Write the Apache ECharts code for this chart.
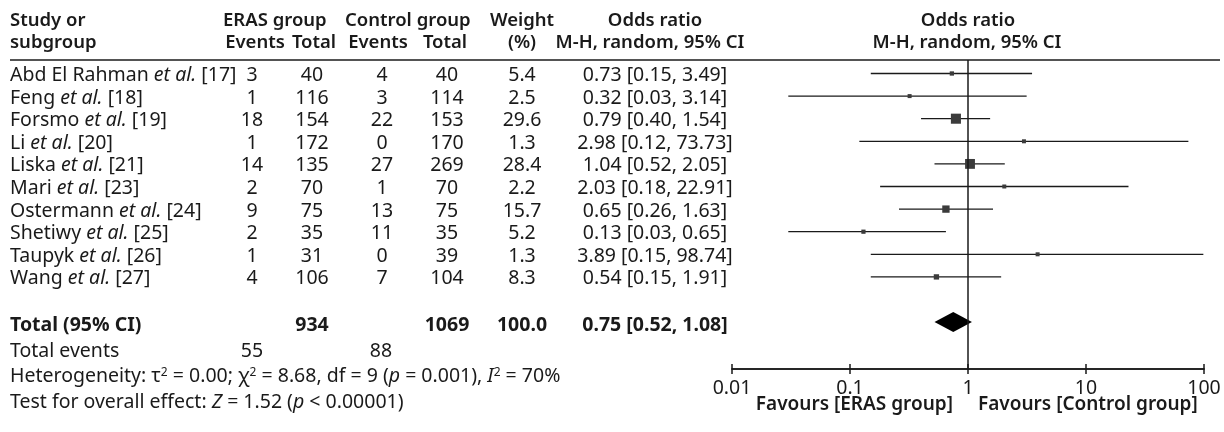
<!DOCTYPE html>
<html>
<head>
<meta charset="utf-8">
<script src="https://cdn.jsdelivr.net/npm/echarts@6/dist/echarts.min.js"></script>
<style>
  html, body { margin: 0; padding: 0; background: #ffffff; }
  #chart { width: 1224px; height: 432px; }
</style>
</head>
<body>
<div id="chart"></div>
<script>
// Study-level data for the forest plot
const studyNames = ['Abd El Rahman', 'Feng', 'Forsmo', 'Li', 'Liska', 'Mari', 'Ostermann', 'Shetiwy', 'Taupyk', 'Wang'];
const studyRefs = [17, 18, 19, 20, 21, 23, 24, 25, 26, 27];
const erasEvents = [3, 1, 18, 1, 14, 2, 9, 2, 1, 4];
const erasTotal = [40, 116, 154, 172, 135, 70, 75, 35, 31, 106];
const controlEvents = [4, 3, 22, 0, 27, 1, 13, 11, 0, 7];
const controlTotal = [40, 114, 153, 170, 269, 70, 75, 35, 39, 104];
const weights = [5.4, 2.5, 29.6, 1.3, 28.4, 2.2, 15.7, 5.2, 1.3, 8.3];
const oddsRatio = [0.73, 0.32, 0.79, 2.98, 1.04, 2.03, 0.65, 0.13, 3.89, 0.54];
const ciLow = [0.15, 0.03, 0.40, 0.12, 0.52, 0.18, 0.26, 0.03, 0.15, 0.15];
const ciHigh = [3.49, 3.14, 1.54, 73.73, 2.05, 22.91, 1.63, 0.65, 98.74, 1.91];

// Pooled estimate
const pooledOR = [0.75];
const pooledLow = [0.52];
const pooledHigh = [1.08];
const pooledTotals = [934, 1069];
const pooledWeight = ['100.0'];
const pooledEvents = [55, 88];

// Axis ticks (log scale)
const axisTicks = [0.01, 0.1, 1, 10, 100];
const axisTickLabels = ['0.01', '0.1', '1', '10', '100'];

const FONT = '"Noto Sans", "DejaVu Sans", sans-serif';
const INK = '#1a1a1a';
const FS = 19.5;
const HFS = 18.5;

const totalRow = studyNames.length + 1;
const studyData = studyNames.map((_, i) => [oddsRatio[i], i, ciLow[i], ciHigh[i], weights[i]]);
const pooledData = [[pooledOR[0], totalRow, pooledLow[0], pooledHigh[0]]];

function tickLabel(v) {
  const k = axisTicks.findIndex(t => Math.abs(Math.log10(t) - Math.log10(v)) < 1e-6);
  return k >= 0 ? axisTickLabels[k] : '';
}

const chart = echarts.init(document.getElementById('chart'), null, { renderer: 'canvas' });

// Two identical grids: one carries the plot and ticks pointing up,
// the other only the axis with ticks pointing down and the labels.
const gridBox = { left: 732, right: 20, top: 60, bottom: 63 };
const baseAxis = {
  type: 'log', logBase: 10, min: 0.01, max: 100, position: 'bottom',
  axisLine: { onZero: false, lineStyle: { color: INK, width: 1.5 } },
  splitLine: { show: false }
};
const yBase = { type: 'value', inverse: true, min: -0.597, max: 13.075, show: false };

chart.setOption({
  animation: false,
  grid: [Object.assign({}, gridBox), Object.assign({}, gridBox)],
  xAxis: [
    Object.assign({}, baseAxis, {
      gridIndex: 0,
      axisTick: { inside: true, length: 5, lineStyle: { color: INK, width: 1.5 } },
      axisLabel: { show: false }
    }),
    Object.assign({}, baseAxis, {
      gridIndex: 1,
      axisTick: { inside: false, length: 5, lineStyle: { color: INK, width: 1.5 } },
      axisLabel: { fontFamily: FONT, fontSize: FS, color: INK, margin: 9, formatter: tickLabel }
    })
  ],
  yAxis: [Object.assign({ gridIndex: 0 }, yBase), Object.assign({ gridIndex: 1 }, yBase)],
  series: [
    {
      type: 'custom',
      xAxisIndex: 0, yAxisIndex: 0,
      data: studyData,
      encode: { x: [0, 2, 3], y: 1 },
      renderItem: function (params, api) {
        const y = api.value(1);
        const a = api.coord([api.value(2), y]);
        const b = api.coord([api.value(3), y]);
        const c = api.coord([api.value(0), y]);
        const s = Math.max(4, 1.85 * Math.sqrt(api.value(4)));
        return {
          type: 'group',
          children: [
            { type: 'line', shape: { x1: a[0], y1: a[1], x2: b[0], y2: b[1] },
              style: { stroke: INK, lineWidth: 1.3 } },
            { type: 'rect', shape: { x: c[0] - s / 2, y: c[1] - s / 2, width: s, height: s },
              style: { fill: '#3b3b3b' } }
          ]
        };
      },
      markLine: {
        silent: true, symbol: 'none', label: { show: false },
        lineStyle: { color: INK, width: 1.5, type: 'solid' },
        data: [{ xAxis: 1 }]
      }
    },
    {
      type: 'custom',
      xAxisIndex: 0, yAxisIndex: 0,
      data: pooledData,
      encode: { x: [0, 2, 3], y: 1 },
      renderItem: function (params, api) {
        const y = api.value(1);
        const l = api.coord([api.value(2), y]);
        const r = api.coord([api.value(3), y]);
        const c = api.coord([api.value(0), y]);
        const h = 10;
        return {
          type: 'polygon',
          shape: { points: [[l[0], l[1]], [c[0], c[1] - h], [r[0], r[1]], [c[0], c[1] + h]] },
          style: { fill: '#000000' }
        };
      }
    }
  ]
});

// Table text, aligned to the plot rows
function rowY(r) { return chart.convertToPixel({ gridIndex: 0 }, [1, r])[1] + 2; }

const rich = {
  n: { fontFamily: FONT, fontSize: FS, fill: INK },
  i: { fontFamily: FONT, fontSize: FS, fill: INK, fontStyle: 'italic' },
  sup: { fontFamily: FONT, fontSize: 12, fill: INK, verticalAlign: 'top' }
};

function txt(x, y, text, align, weight, size) {
  return {
    type: 'text', x: x, y: y, silent: true,
    style: {
      text: text, fontFamily: FONT, fontSize: size || FS, fill: INK,
      fontWeight: weight || 'normal', align: align || 'left', verticalAlign: 'middle'
    }
  };
}
function head(x, y, text, align) { return txt(x, y, text, align, 600, HFS); }
function richTxt(x, y, text) {
  return {
    type: 'text', x: x, y: y, silent: true,
    style: { text: text, rich: rich, fontFamily: FONT, fontSize: FS, fill: INK, align: 'left', verticalAlign: 'middle' }
  };
}

const col = { study: 10, eE: 252, eT: 312, cE: 382, cT: 447, w: 522, or: 655 };
const els = [];

// Header
els.push(head(col.study, 21, 'Study or', 'left'));
els.push(head(col.study, 43, 'subgroup', 'left'));
els.push(head(223, 21, 'ERAS group', 'left'));
els.push(head(col.eE + 3, 43, 'Events', 'center'));
els.push(head(col.eT + 2, 43, 'Total', 'center'));
els.push(head(345, 21, 'Control group', 'left'));
els.push(head(col.cE - 4, 43, 'Events', 'center'));
els.push(head(col.cT - 2, 43, 'Total', 'center'));
els.push(head(col.w, 21, 'Weight', 'center'));
els.push(head(col.w, 43, '(%)', 'center'));
els.push(head(col.or, 21, 'Odds ratio', 'center'));
els.push(head(col.or - 5, 43, 'M-H, random, 95% CI', 'center'));
els.push(head(968, 21, 'Odds ratio', 'center'));
els.push(head(967, 43, 'M-H, random, 95% CI', 'center'));
els.push({ type: 'line', silent: true, shape: { x1: 10, y1: 60, x2: 1220, y2: 60 }, style: { stroke: INK, lineWidth: 1.5 } });

// Study rows
studyNames.forEach((name, i) => {
  const y = rowY(i);
  els.push(richTxt(col.study, y, '{n|' + name + ' }{i|et al.}{n| [' + studyRefs[i] + ']}'));
  els.push(txt(col.eE, y, String(erasEvents[i]), 'center'));
  els.push(txt(col.eT, y, String(erasTotal[i]), 'center'));
  els.push(txt(col.cE, y, String(controlEvents[i]), 'center'));
  els.push(txt(col.cT, y, String(controlTotal[i]), 'center'));
  els.push(txt(col.w, y, weights[i].toFixed(1), 'center'));
  els.push(txt(col.or, y, oddsRatio[i].toFixed(2) + ' [' + ciLow[i].toFixed(2) + ', ' + ciHigh[i].toFixed(2) + ']', 'center'));
});

// Pooled row
const ty = rowY(totalRow) + 1;
els.push(txt(col.study, ty, 'Total (95% CI)', 'left', 'bold'));
els.push(txt(col.eT, ty, String(pooledTotals[0]), 'center', 'bold'));
els.push(txt(col.cT, ty, String(pooledTotals[1]), 'center', 'bold'));
els.push(txt(col.w, ty, pooledWeight[0], 'center', 'bold'));
els.push(txt(col.or, ty, pooledOR[0].toFixed(2) + ' [' + pooledLow[0].toFixed(2) + ', ' + pooledHigh[0].toFixed(2) + ']', 'center', 'bold'));

// Footer lines
const fy = ty + 26.5;
const step = 25.3;
els.push(txt(col.study, fy, 'Total events', 'left'));
els.push(txt(col.eE, fy, String(pooledEvents[0]), 'center'));
els.push(txt(col.cE - 1, fy, String(pooledEvents[1]), 'center'));
els.push(richTxt(col.study, fy + step,
  '{n|Heterogeneity: τ}{sup|2}{n| = 0.00; χ}{sup|2}{n| = 8.68, df = 9 (}{i|p}{n| = 0.001), }{i|I}{sup|2}{n| = 70%}'));
els.push(richTxt(col.study, fy + 2 * step,
  '{n|Test for overall effect: }{i|Z}{n| = 1.52 (}{i|p}{n| < 0.00001)}'));

// Direction labels under the axis
els.push(txt(953, 405, 'Favours [ERAS group]', 'right', 600, HFS + 0.5));
els.push(txt(978, 405, 'Favours [Control group]', 'left', 600, HFS + 0.5));

chart.setOption({ graphic: { elements: els } });
</script>
</body>
</html>
